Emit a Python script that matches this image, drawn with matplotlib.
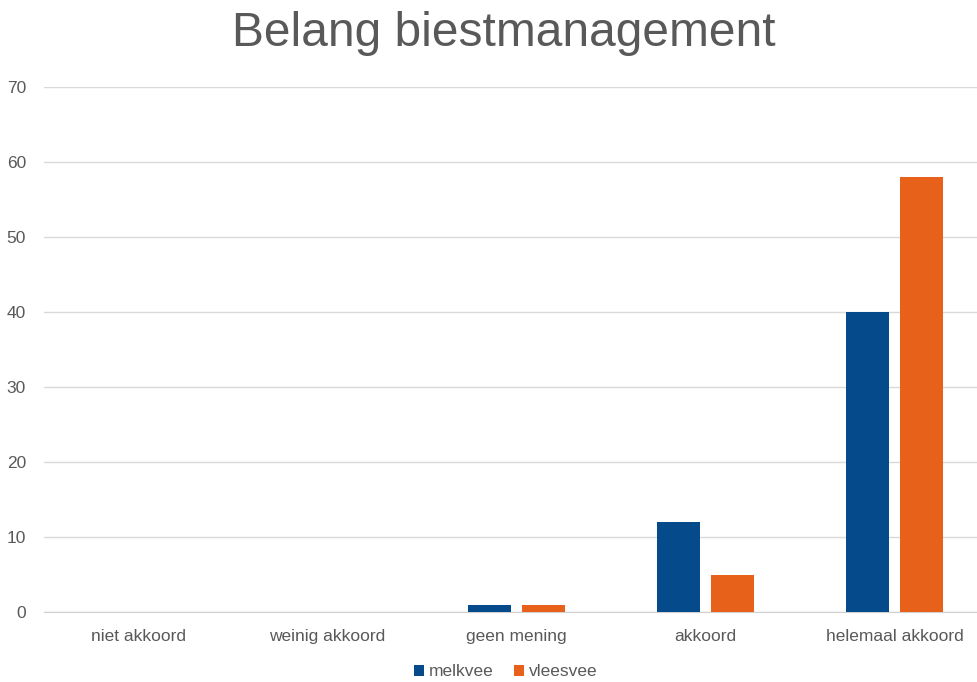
import numpy as np
import matplotlib.pyplot as plt

plt.rcParams['font.family'] = ['Liberation Sans', 'DejaVu Sans']

categories = ["niet akkoord", "weinig akkoord", "geen mening", "akkoord", "helemaal akkoord"]
melkvee = [0, 0, 1, 12, 40]
vleesvee = [0, 0, 1, 5, 58]

blue = "#054a8a"
orange = "#e8611a"
grey = "#595959"

fig = plt.figure(figsize=(9.78, 6.82), dpi=100)
ax = fig.add_axes([44 / 978, 70 / 682, 945 / 978, 525 / 682])

x = np.arange(len(categories))
width = 0.227
ax.bar(x - 0.142, melkvee, width, color=blue, label="melkvee", zorder=3)
ax.bar(x + 0.142, vleesvee, width, color=orange, label="vleesvee", zorder=3)

ax.set_xlim(-0.5, len(categories) - 0.5)
ax.set_ylim(0, 70)
ax.set_yticks(range(0, 71, 10))
ax.set_xticks(x)
ax.set_xticklabels(categories)
ax.grid(axis="y", color="#d9d9d9", linewidth=1, zorder=0)
for s in ["top", "right", "left"]:
    ax.spines[s].set_visible(False)
ax.spines["bottom"].set_color("#d0d0d0")
ax.tick_params(length=0, labelsize=12.5, colors=grey)
ax.tick_params(axis="y", pad=13)
ax.tick_params(axis="x", pad=12)

fig.text(504 / 978, 1 - 33 / 682, "Belang biestmanagement", ha="center", va="center",
         fontsize=34.5, color=grey)

fig.legend(loc="center", bbox_to_anchor=(506 / 978, 1 - 672 / 682), ncol=2, frameon=False,
           fontsize=12.5, labelcolor=grey, handlelength=0.55, handleheight=0.55,
           handletextpad=0.3, columnspacing=1.2)

fig.savefig("out.png", dpi=100)
